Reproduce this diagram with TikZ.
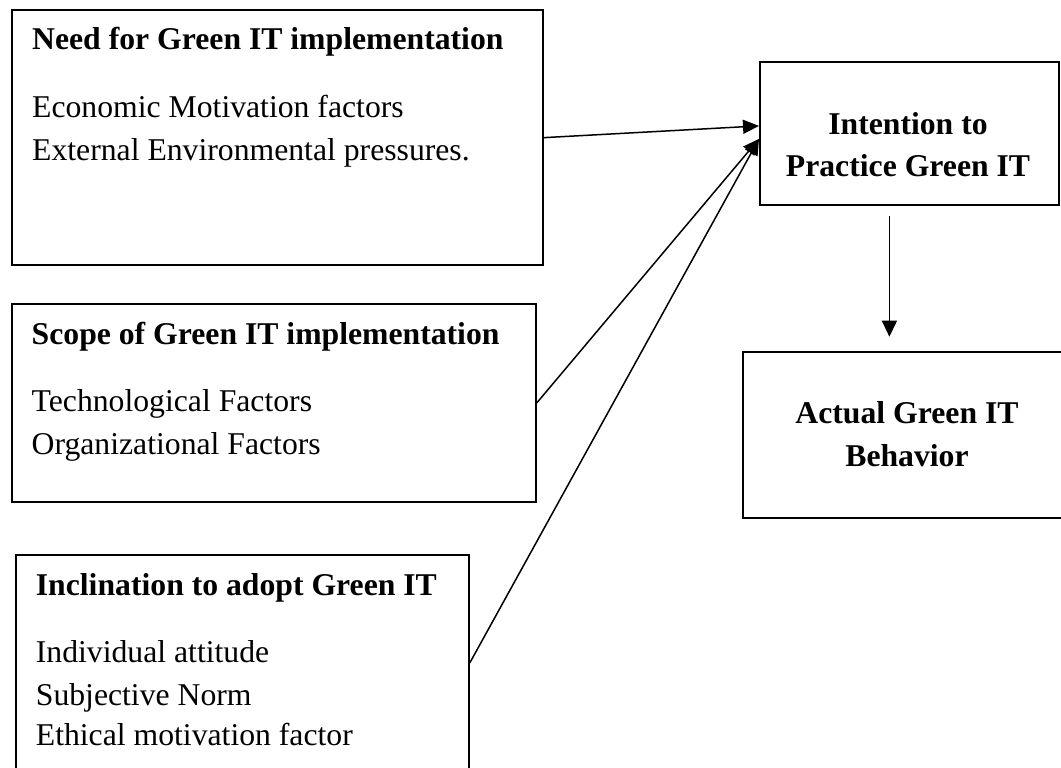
\documentclass[tikz,border=0pt]{standalone}
\usepackage{fontspec}
\setmainfont{Liberation Serif}
\usetikzlibrary{arrows.meta}
\begin{document}
\begin{tikzpicture}[x=1pt,y=-1pt,
  box/.style={draw, line width=1.8pt, inner sep=0pt, anchor=north west},
  ttl/.style={font=\fontsize{31.7}{38}\selectfont\bfseries, inner sep=0pt, anchor=base west},
  itm/.style={font=\fontsize{31.7}{38}\selectfont, inner sep=0pt, anchor=base west},
  ctr/.style={font=\fontsize{31.7}{38}\selectfont\bfseries, inner sep=0pt, anchor=base},
  arr/.style={-{Triangle[length=16pt,width=14pt]}, line width=1.5pt},
  arrv/.style={-{Triangle[length=16pt,width=15pt]}, line width=1.5pt}]
\useasboundingbox (0,0) rectangle (1061,768);
\begin{scope}
\clip (0,0) rectangle (1061,768);
% boxes
\node[box, minimum width=531pt, minimum height=254.5pt] (need) at (11,9.5) {};
\node[box, minimum width=524pt, minimum height=198pt] (scope) at (11,303) {};
\node[box, minimum width=453pt, minimum height=216pt] (incl) at (15,554) {};
\node[box, minimum width=299pt, minimum height=143pt] (intent) at (759,61) {};
\node[box, minimum width=330pt, minimum height=166pt] (actual) at (742,351) {};
% texts box 1
\node[ttl] (needT) at (32,50) {Need for Green IT implementation};
\node[itm] (needA) at (32,117.3) {Economic Motivation factors};
\node[itm] (needB) at (32,160.7) {External Environmental pressures.};
% texts box 2
\node[ttl] (scopeT) at (31.5,344) {Scope of Green IT implementation};
\node[itm] (scopeA) at (31.5,411.7) {Technological Factors};
\node[itm] (scopeB) at (31.5,454.3) {Organizational Factors};
% texts box 3
\node[ttl] (inclT) at (35.7,595) {Inclination to adopt Green IT};
\node[itm] (inclA) at (35.7,662.7) {Individual attitude};
\node[itm] (inclB) at (35.7,705) {Subjective Norm};
\node[itm] (inclC) at (35.7,745) {Ethical motivation factor};
% texts right boxes
\node[ctr] (intentA) at (908,134) {Intention to};
\node[ctr] (intentB) at (908,176) {Practice Green IT};
\node[ctr] (actualA) at (907,423) {Actual Green IT};
\node[ctr] (actualB) at (907,466.7) {Behavior};
% connectors
\draw[arr] (need.east) -- ([yshift=7.5pt]intent.west);
\draw[arr] (scope.east) -- ([yshift=-5.5pt]intent.west);
\draw[arr] (incl.east) -- ([yshift=-5.5pt]intent.west);
\coordinate (vtop) at ([xshift=-20pt,yshift=-10pt]intent.south);
\coordinate (vbase) at (vtop |- actual.north);
\draw[arrv] (vtop) -- ([yshift=14.3pt]vbase);
\end{scope}
\end{tikzpicture}
\end{document}
